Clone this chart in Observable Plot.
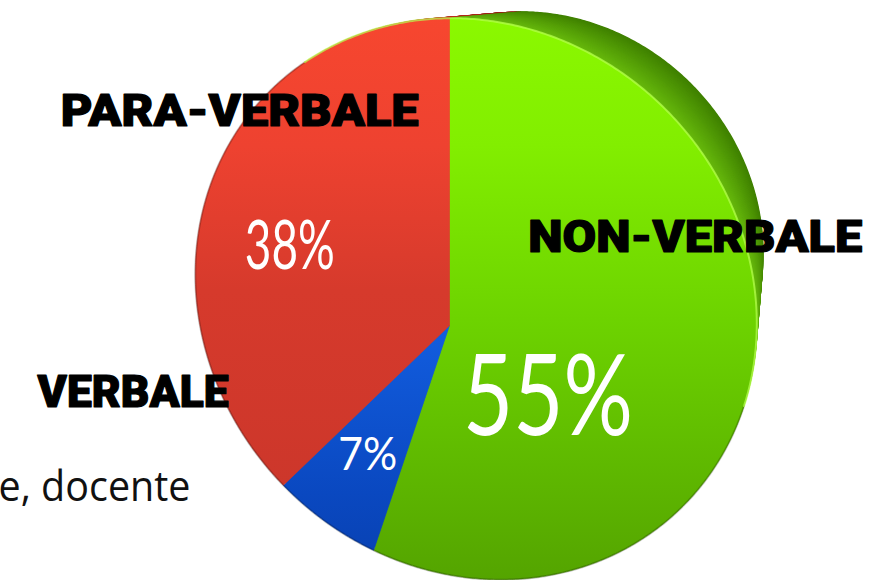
<!DOCTYPE html>
<html><head><meta charset="utf-8">
<script src="https://cdn.jsdelivr.net/npm/d3@7"></script>
<script src="https://cdn.jsdelivr.net/npm/@observablehq/plot@0.6"></script>
<style>
html,body{margin:0;padding:0;background:#fff;}
#chart{width:884px;height:580px;overflow:hidden;}
</style></head><body><div id="chart"></div>
<script>
// ---- data ----
const categories = ["NON-VERBALE", "VERBALE", "PARA-VERBALE"];
const shares = [55, 7, 38];
const shareLabels = shares.map(v => v + "%");
const slideText = ["e, docente"];

// ---- style / layout ----
const W = 884, H = 580;
const deg = Math.PI / 180;
const view = {cx: 449, cy: 325, S: 290, tilt: 25 * deg, near: 45 * deg, persp: 0.14, shift: 100, shrink: 0.21};
const faceKey = {"NON-VERBALE": "#6dd301", "VERBALE": "#0d57d9", "PARA-VERBALE": "#de3b2d"};
const faceGrad = {
  "NON-VERBALE": [[0, "#8cfa00"], [0.25, "#82ee00"], [0.55, "#6dd300"], [1, "#54a400"]],
  "VERBALE": [[0, "#1e70f4"], [0.5, "#1462e6"], [0.85, "#0a48c0"], [1, "#0840b0"]],
  "PARA-VERBALE": [[0, "#f8472f"], [0.25, "#ee4230"], [0.5, "#d63a2c"], [1, "#c8352a"]]
};
const sideColor = {
  "NON-VERBALE": ["#3f8000", "#66b80c"],
  "VERBALE": ["#08378f", "#0b47b8"],
  "PARA-VERBALE": ["#8a1c10", "#c3301f"]
};
const catSpot = {"PARA-VERBALE": [315.5, 1.03], "NON-VERBALE": [68.2, 0.868], "VERBALE": [255.5, 1.40]};
const pctSpot = {"NON-VERBALE": {frac: 0.621, r: 0.42, size: 112}, "VERBALE": {frac: 0.5, r: 0.63, size: 47}, "PARA-VERBALE": {frac: 0.5, r: 0.64, size: 68}};
const textWidths = {"PARA-VERBALE": 358, "NON-VERBALE": 334, "VERBALE": 191, "55%": 170, "38%": 90, "7%": 59, "e, docente": 192};

// ---- projection of the tilted pie (perspective look) ----
const ux = Math.sin(view.near), uy = -Math.cos(view.near);
const vx = Math.cos(view.near), vy = Math.sin(view.near);
function project(theta, r, depth = 0) {
  const phi = theta - view.near;
  const a = r * Math.cos(phi), b = r * Math.sin(phi);
  const k = view.S / (1 - a * view.persp);
  const ap = a * Math.cos(view.tilt);
  const s = 1 - depth * view.shrink;
  const X = k * (ap * ux + b * vx) * s + depth * view.shift * ux;
  const Y = k * (ap * uy + b * vy) * s + depth * view.shift * uy;
  return [view.cx + X, view.cy + Y];
}
const start = view.near - Math.atan(Math.cos(view.tilt));
const table = categories.map((c, i) => ({category: c, share: shares[i], label: shareLabels[i]}));
const arcs = d3.pie().sort(null).value(d => d.share).startAngle(start).endAngle(start + 2 * Math.PI)(table);

function slicePath(arc, depth) {
  const [x0, y0] = project(0, 0, depth);
  const pts = [{x: x0, y: y0}];
  const n = Math.max(2, Math.ceil((arc.endAngle - arc.startAngle) / (0.5 * deg)));
  for (let i = 0; i <= n; i++) {
    const t = arc.startAngle + (arc.endAngle - arc.startAngle) * i / n;
    const [x, y] = project(t, 1, depth);
    pts.push({x, y});
  }
  pts.push({x: x0, y: y0});
  return pts;
}
function rimPath(t0, t1) {
  const pts = [];
  const n = Math.ceil(Math.abs(t1 - t0) / (0.5 * deg));
  for (let i = 0; i <= n; i++) { const [x, y] = project(t0 + (t1 - t0) * i / n, 1, 0); pts.push({x, y}); }
  return pts;
}

const marks = [];
const N = 36;
for (let j = N; j >= 1; j--) {
  const depth = j / N;
  for (const arc of arcs) {
    const c = sideColor[arc.data.category];
    const col = d3.interpolateRgb(c[0], c[1])(1 - depth);
    marks.push(Plot.line(slicePath(arc, depth), {x: "x", y: "y", fill: col, stroke: col, strokeWidth: 1.5, curve: "linear"}));
  }
}
for (const arc of arcs) {
  marks.push(Plot.line(slicePath(arc, 0), {x: "x", y: "y", fill: faceKey[arc.data.category], stroke: faceKey[arc.data.category], strokeWidth: 0.6, curve: "linear"}));
}
// edge shading
marks.push(Plot.line(rimPath(start + 100 * deg, start + 330 * deg), {x: "x", y: "y", stroke: "#000", strokeOpacity: 0.22, strokeWidth: 2, curve: "linear"}));
marks.push(Plot.line(rimPath(start + 330 * deg - 2 * Math.PI, start + 100 * deg), {x: "x", y: "y", stroke: "#b6ff50", strokeOpacity: 0.7, strokeWidth: 2, curve: "linear"}));

// category labels
marks.push(Plot.text(table, {
  x: d => project(catSpot[d.category][0] * deg, catSpot[d.category][1])[0],
  y: d => project(catSpot[d.category][0] * deg, catSpot[d.category][1])[1],
  text: "category", fill: "#000", stroke: "#000", strokeWidth: 1.2,
  fontFamily: "Roboto, 'DejaVu Sans', sans-serif", fontWeight: 900, fontSize: 44,
  textAnchor: "middle", lineAnchor: "middle"
}));
// percentage labels
for (const arc of arcs) {
  const sp = pctSpot[arc.data.category];
  const t = arc.startAngle + sp.frac * (arc.endAngle - arc.startAngle);
  marks.push(Plot.text([arc.data], {
    x: () => project(t, sp.r)[0], y: () => project(t, sp.r)[1],
    text: "label", fill: "#fff", fontFamily: "Lato, 'Open Sans', sans-serif", fontWeight: 400,
    fontSize: sp.size, textAnchor: "middle", lineAnchor: "middle"
  }));
}
// leftover slide text
marks.push(Plot.text(slideText, {frameAnchor: "top-left", dx: 190, dy: 500 - 0.32 * 42, text: d => d,
  textAnchor: "end", lineAnchor: "middle", fill: "#111", fontFamily: "'Open Sans', 'Noto Sans', sans-serif", fontSize: 42}));

const svg = Plot.plot({
  width: W, height: H, margin: 0,
  x: {domain: [0, W], range: [0, W], axis: null},
  y: {domain: [0, H], range: [0, H], axis: null},
  style: {background: "#fff", overflow: "hidden"},
  marks
});

// gradients for the pie faces
const defs = d3.select(svg).insert("defs", ":first-child");
Object.entries(faceGrad).forEach(([cat, stops], i) => {
  const g = defs.append("linearGradient").attr("id", "face" + i).attr("gradientUnits", "userSpaceOnUse")
    .attr("x1", 0).attr("y1", 0).attr("x2", 0).attr("y2", H);
  stops.forEach(([o, c]) => g.append("stop").attr("offset", o).attr("stop-color", c));
  svg.querySelectorAll(`[fill="${faceKey[cat]}"]`).forEach(el => el.setAttribute("fill", `url(#face${i})`));
  svg.querySelectorAll(`[stroke="${faceKey[cat]}"]`).forEach(el => el.setAttribute("stroke", `url(#face${i})`));
});
svg.querySelectorAll("text").forEach(t => {
  const w = textWidths[t.textContent.trim()];
  if (w) { t.setAttribute("textLength", w); t.setAttribute("lengthAdjust", "spacingAndGlyphs"); }
});
document.getElementById("chart").appendChild(svg);
</script>
</body></html>
